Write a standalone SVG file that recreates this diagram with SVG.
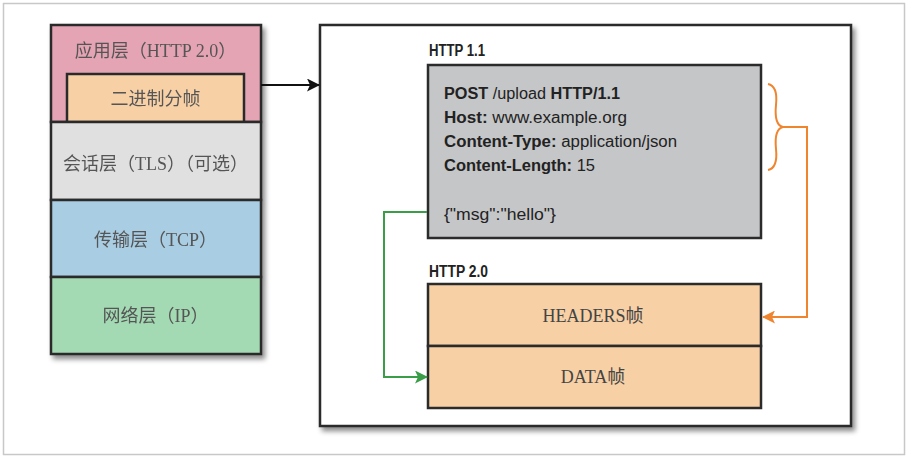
<svg xmlns="http://www.w3.org/2000/svg" width="909" height="459" viewBox="0 0 909 459">
<defs>
<filter id="sh" x="-10%" y="-10%" width="130%" height="130%">
<feDropShadow dx="3" dy="4" stdDeviation="2.5" flood-color="#000" flood-opacity="0.45"/>
</filter>
<marker id="ab" markerWidth="13" markerHeight="13" refX="12" refY="6.5" orient="auto" markerUnits="userSpaceOnUse"><path d="M0,0 L13,6.5 L0,13 L3,6.5 Z" fill="#111"/></marker>
<marker id="ag" markerWidth="13" markerHeight="13" refX="12" refY="6.5" orient="auto" markerUnits="userSpaceOnUse"><path d="M0,0 L13,6.5 L0,13 L3,6.5 Z" fill="#3a9e48"/></marker>
<marker id="ao" markerWidth="13" markerHeight="13" refX="12" refY="6.5" orient="auto" markerUnits="userSpaceOnUse"><path d="M0,0 L13,6.5 L0,13 L3,6.5 Z" fill="#f0852f"/></marker>
</defs>
<style>
.box{stroke:#2b2b2b;stroke-width:2.5}
.cn{font-family:"Liberation Serif","Noto Sans CJK SC",serif;font-size:18px;fill:#555;text-anchor:middle;dominant-baseline:central}
.lb{font-family:"Liberation Sans",sans-serif;font-size:16px;font-weight:bold;fill:#222}
.req{font-family:"Liberation Sans",sans-serif;font-size:16px;fill:#222}
.b{font-weight:bold}
.fr{font-family:"Liberation Serif","Noto Sans CJK SC",serif;font-size:18px;fill:#444;text-anchor:middle;dominant-baseline:central}
</style>
<rect x="3.5" y="3.5" width="901" height="451" fill="#fff" stroke="#c8c8c8" stroke-width="1.5"/>

<g id="stack" filter="url(#sh)">
<g id="app">
<rect class="box" x="51" y="25" width="210" height="97" fill="#e4a4b4"/>
<text class="cn" x="155.5" y="51">应用层（HTTP 2.0）</text>
</g>
<g id="framing">
<rect class="box" x="67" y="74" width="177" height="48" fill="#f7d0a6"/>
<text class="cn" x="155.5" y="99">二进制分帧</text>
</g>
<g id="session">
<rect class="box" x="51" y="122" width="210" height="78" fill="#e0e0e0"/>
<text class="cn" x="155.5" y="164">会话层（TLS）（可选）</text>
</g>
<g id="transport">
<rect class="box" x="51" y="200" width="210" height="77" fill="#a9cde3"/>
<text class="cn" x="155.5" y="240">传输层（TCP）</text>
</g>
<g id="network">
<rect class="box" x="51" y="277" width="210" height="77" fill="#a3dab3"/>
<text class="cn" x="155.5" y="316">网络层（IP）</text>
</g>
</g>

<g id="container">
<rect class="box" x="320" y="25" width="531" height="401" fill="#fff" filter="url(#sh)"/>
</g>

<g id="http11">
<text class="lb" x="429" y="56" textLength="56" lengthAdjust="spacingAndGlyphs">HTTP 1.1</text>
<rect class="box" x="428" y="65" width="333" height="173" fill="#c5c6c8"/>
<text class="req" x="444" y="99" textLength="176" lengthAdjust="spacingAndGlyphs"><tspan class="b">POST</tspan> /upload <tspan class="b">HTTP/1.1</tspan></text>
<text class="req" x="444" y="123" textLength="183" lengthAdjust="spacingAndGlyphs"><tspan class="b">Host:</tspan> www.example.org</text>
<text class="req" x="444" y="147" textLength="233" lengthAdjust="spacingAndGlyphs"><tspan class="b">Content-Type:</tspan> application/json</text>
<text class="req" x="444" y="171" textLength="151" lengthAdjust="spacingAndGlyphs"><tspan class="b">Content-Length:</tspan> 15</text>
<text class="req" x="444" y="220" textLength="112" lengthAdjust="spacingAndGlyphs">{"msg":"hello"}</text>
</g>

<g id="http20">
<text class="lb" x="429" y="277" textLength="59" lengthAdjust="spacingAndGlyphs">HTTP 2.0</text>
<g id="headers">
<rect class="box" x="428" y="284" width="333" height="62" fill="#f7d0a6"/>
<text class="fr" x="593" y="316">HEADERS帧</text>
</g>
<g id="data">
<rect class="box" x="428" y="346" width="333" height="62" fill="#f7d0a6"/>
<text class="fr" x="593" y="377">DATA帧</text>
</g>
</g>

<g id="connectors" fill="none">
<path d="M261,85 H319" stroke="#111" stroke-width="2" marker-end="url(#ab)"/>
<path d="M427,212 H384 V377 H427" stroke="#3a9e48" stroke-width="2" marker-end="url(#ag)"/>
<path d="M768,84 Q778,86 776,105 Q774,125 783,127 Q774,129 776,149 Q778,168 768,170" stroke="#f0852f" stroke-width="2"/>
<path d="M783,127 H807 V317 H763" stroke="#f0852f" stroke-width="2" marker-end="url(#ao)"/>
</g>
</svg>
